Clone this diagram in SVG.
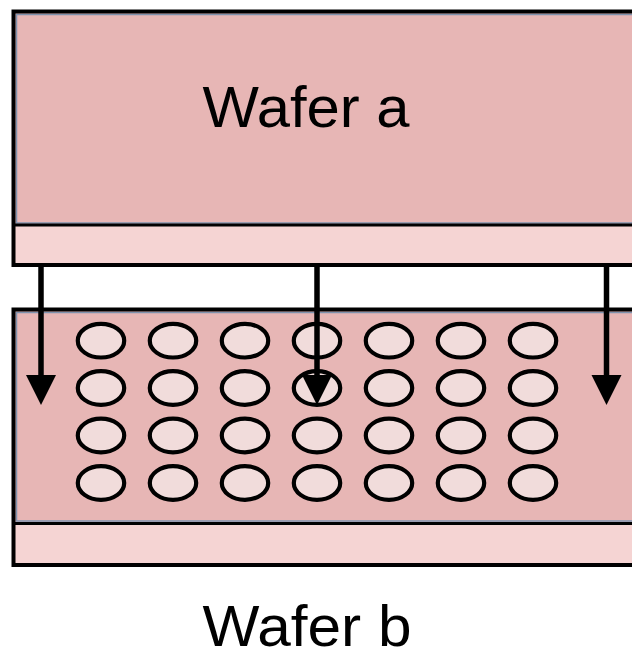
<svg xmlns="http://www.w3.org/2000/svg" width="632" height="658" viewBox="0 0 632 658">
  <style>
    .body { fill: #E7B6B5; }
    .strip { fill: #F5D4D3; }
    .edge { fill: none; stroke: #000; stroke-width: 4; }
    .inner { fill: none; stroke: #7F93AE; stroke-width: 1.5; }
    .hole { fill: #F1DCDB; stroke: #000; stroke-width: 4.2; }
    .label { font-family: "Liberation Sans", Arial, sans-serif; font-size: 58px; fill: #000; }
    .shaft { stroke: #000; stroke-width: 5.5; fill: none; }
    .head { fill: #000; }
  </style>
  <defs>
    <ellipse id="via" cx="0" cy="0" rx="23.2" ry="16.8" class="hole"/>
  </defs>

  <!-- upper wafer -->
  <g id="wafer-a">
    <rect class="body" x="13.5" y="11.5" width="640" height="213.5"/>
    <rect class="strip" x="13.5" y="225" width="640" height="40"/>
    <rect class="inner" x="16.5" y="14.5" width="640" height="208.5"/>
    <rect class="edge" x="13.5" y="11.5" width="640" height="253.5"/>
    <line x1="13.5" y1="225" x2="640" y2="225" stroke="#000" stroke-width="3"/>
    <text class="label" x="202.5" y="127" textLength="207" lengthAdjust="spacingAndGlyphs">Wafer a</text>
  </g>

  <!-- lower wafer with via array -->
  <g id="wafer-b">
    <rect class="body" x="13.5" y="309.5" width="640" height="213.5"/>
    <rect class="strip" x="13.5" y="523.5" width="640" height="41.5"/>
    <rect class="inner" x="16.5" y="312.5" width="640" height="208.5"/>
    <rect class="edge" x="13.5" y="309.5" width="640" height="255.5"/>
    <line x1="13.5" y1="523.5" x2="640" y2="523.5" stroke="#000" stroke-width="3"/>
  </g>

  <g id="via-array">
    <g transform="translate(0,340.7)">
      <use href="#via" x="101"/><use href="#via" x="173"/><use href="#via" x="245"/><use href="#via" x="317"/><use href="#via" x="389"/><use href="#via" x="461"/><use href="#via" x="533"/>
    </g>
    <g transform="translate(0,388)">
      <use href="#via" x="101"/><use href="#via" x="173"/><use href="#via" x="245"/><use href="#via" x="317"/><use href="#via" x="389"/><use href="#via" x="461"/><use href="#via" x="533"/>
    </g>
    <g transform="translate(0,435.5)">
      <use href="#via" x="101"/><use href="#via" x="173"/><use href="#via" x="245"/><use href="#via" x="317"/><use href="#via" x="389"/><use href="#via" x="461"/><use href="#via" x="533"/>
    </g>
    <g transform="translate(0,483)">
      <use href="#via" x="101"/><use href="#via" x="173"/><use href="#via" x="245"/><use href="#via" x="317"/><use href="#via" x="389"/><use href="#via" x="461"/><use href="#via" x="533"/>
    </g>
  </g>

  <g id="wafer-b-label">
    <text class="label" x="202.5" y="646" font-size="56" textLength="209" lengthAdjust="spacingAndGlyphs">Wafer b</text>
  </g>

  <!-- bonding arrows -->
  <g id="connectors">
    <line class="shaft" x1="41" y1="265" x2="41" y2="377"/>
    <polygon class="head" points="26,375 56,375 41,405"/>
    <line class="shaft" x1="317" y1="265" x2="317" y2="377"/>
    <polygon class="head" points="302,375 332,375 317,405"/>
    <line class="shaft" x1="606.5" y1="265" x2="606.5" y2="377"/>
    <polygon class="head" points="591.5,375 621.5,375 606.5,405"/>
  </g>
</svg>
